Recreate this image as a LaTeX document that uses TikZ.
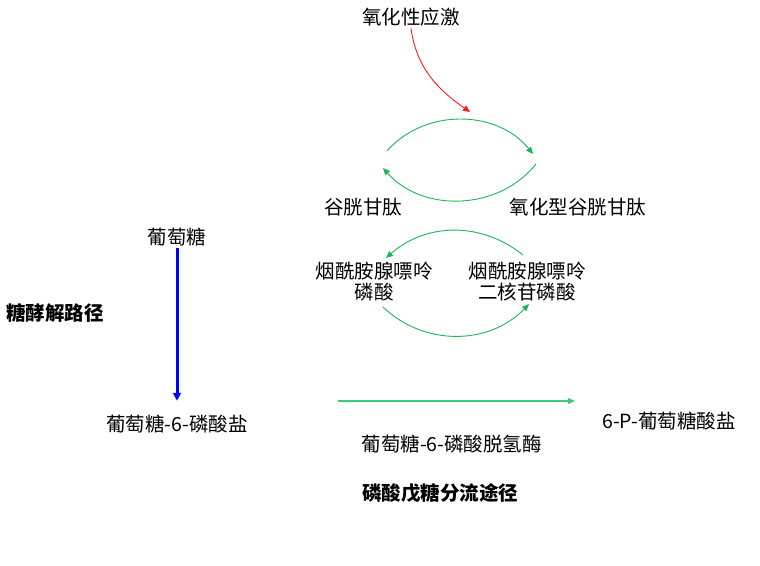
\documentclass[tikz,border=0pt]{standalone}
\usepackage{fontspec}
\setmainfont{Noto Sans CJK SC}
\usepackage{tikz}
\usetikzlibrary{arrows.meta}
\usetikzlibrary{positioning}
\definecolor{mygreen}{HTML}{1DB45A}
\definecolor{mylightgreen}{HTML}{3DCB7E}
\definecolor{myred}{HTML}{FF1A1A}
\definecolor{myblue}{HTML}{0000FF}
\newcommand{\txtsize}{\fontsize{19.5}{21}\selectfont}

\begin{document}
\begin{tikzpicture}[
    x=1pt, y=1pt,
    align=center,
    every node/.style={
      inner sep=2pt,
      font=\txtsize
    },
    heading/.style={font=\txtsize\bfseries},
    tip/.style={-{Triangle[length=7pt,width=6pt]}},
    cycle/.style={tip, draw=mygreen, line width=0.9pt}
]
  \useasboundingbox (0,0) rectangle (760,565);

  % glutathione cycle
  \node (stress) at (411,548) {氧化性应激};
  \node (gsh)  at (363,358) {谷胱甘肽};
  \node (gssg) at (578,358) {氧化型谷胱甘肽};

  \coordinate (gshout)  at (387,414);
  \coordinate (gssgin)  at (533,411);
  \coordinate (gssgout) at (536,401);
  \coordinate (gshin)   at (383,397);
  \coordinate (stresstip) at (470,453);

  \draw[cycle] (gshout) to[bend left=50] (gssgin);
  \draw[cycle] (gssgout) to[bend left=50] (gshin);
  \draw[tip, draw=myred, line width=0.9pt] (stress.south)
    to[out=-82, in=145] (stresstip);

  % NADP / NADPH cycle
  \node (nadp)  at (374,283) {烟酰胺腺嘌呤\\磷酸};
  \node (nadph) at (527,283) {烟酰胺腺嘌呤\\二核苷磷酸};

  \coordinate (nadphout) at (523,310);
  \coordinate (nadpin)   at (386,307);
  \coordinate (nadpout)  at (383,258);
  \coordinate (nadphin)  at (529,261);

  \draw[cycle] (nadphout) to[bend right=40] (nadpin);
  \draw[cycle] (nadpout) to[bend right=45] (nadphin);

  % glycolysis
  \node (glc) at (177,328) {葡萄糖};
  \node (glc6p) at (177,141) {葡萄糖-6-磷酸盐};
  \node[heading] (glycolysis) at (55,252) {糖酵解路径};

  \draw[-{Triangle[length=8pt,width=8pt]}, draw=myblue, fill=myblue, line width=3pt, shorten >=12pt] (glc.south) -- (glc6p.north);

  % pentose phosphate pathway
  \node (pg) at (669,144) {6-P-葡萄糖酸盐};
  \node[heading] (ppp) at (440,72) {磷酸戊糖分流途径};

  \coordinate (pppstart) at (338,164);
  \coordinate (pppend)   at (575,164);

  \draw[tip, draw=mylightgreen, line width=1.1pt] (pppstart) --
  node [pos=0.48, below=31pt] (g6pd) {葡萄糖-6-磷酸脱氢酶}
  (pppend);

\end{tikzpicture}
\end{document}
